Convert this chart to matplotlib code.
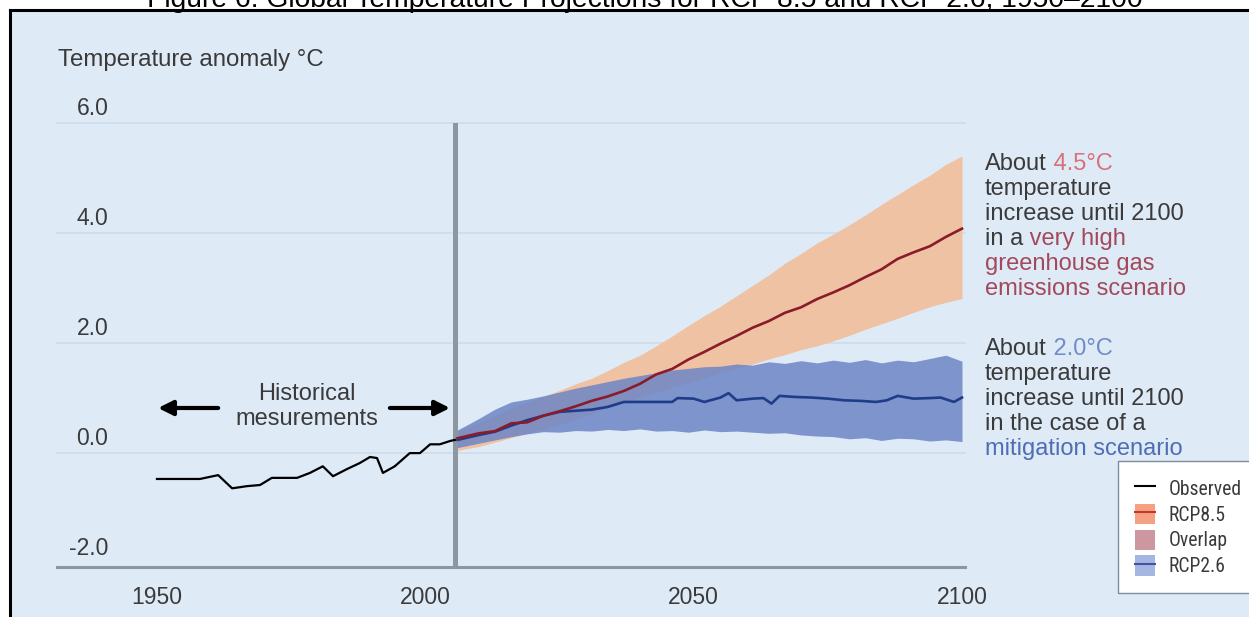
import matplotlib
matplotlib.use("Agg")
import matplotlib.pyplot as plt
from matplotlib import font_manager as fm
from matplotlib.patches import Rectangle, Patch
from matplotlib.lines import Line2D

# ---- data ----
obs_years = [1950, 1958, 1961.4, 1964, 1966.8, 1969.2, 1971.4, 1976.1, 1978.5, 1980.9,
             1982.8, 1985.4, 1987.8, 1989.7, 1991, 1992.1, 1994.3, 1997.1, 1999,
             2000.9, 2002.7, 2004.6, 2005.5]
obs_vals = [-0.47, -0.47, -0.40, -0.64, -0.60, -0.58, -0.45, -0.45, -0.36, -0.24,
            -0.42, -0.29, -0.18, -0.07, -0.09, -0.36, -0.24, 0.0, 0.0,
            0.16, 0.16, 0.22, 0.24]

rcp_years = [2006, 2010, 2013, 2016, 2019, 2022, 2025, 2028, 2031, 2034, 2037, 2040,
             2043, 2046, 2049, 2052, 2055, 2058, 2061, 2064, 2067, 2070, 2073, 2076,
             2079, 2082, 2085, 2088, 2091, 2094, 2097, 2100]
rcp85_mean = [0.27, 0.36, 0.40, 0.54, 0.56, 0.68, 0.76, 0.85, 0.95, 1.03, 1.13, 1.26,
              1.43, 1.53, 1.70, 1.84, 1.99, 2.13, 2.28, 2.40, 2.55, 2.65, 2.80, 2.92,
              3.05, 3.20, 3.34, 3.53, 3.65, 3.76, 3.93, 4.08]
rcp85_hi = [0.40, 0.55, 0.68, 0.82, 0.93, 1.03, 1.14, 1.26, 1.36, 1.50, 1.65, 1.78,
            1.95, 2.13, 2.32, 2.50, 2.67, 2.86, 3.05, 3.24, 3.45, 3.63, 3.82, 3.98,
            4.15, 4.33, 4.52, 4.70, 4.88, 5.05, 5.25, 5.40]
rcp85_lo = [0.05, 0.12, 0.20, 0.28, 0.36, 0.44, 0.52, 0.62, 0.72, 0.82, 0.92, 1.02,
            1.10, 1.20, 1.28, 1.37, 1.46, 1.54, 1.62, 1.71, 1.79, 1.88, 1.95, 2.04,
            2.14, 2.25, 2.35, 2.45, 2.56, 2.66, 2.74, 2.81]
rcp26_hi = [0.42, 0.63, 0.80, 0.93, 0.98, 1.04, 1.11, 1.18, 1.24, 1.30, 1.36, 1.41,
            1.46, 1.51, 1.54, 1.57, 1.58, 1.62, 1.60, 1.66, 1.63, 1.68, 1.64, 1.69,
            1.65, 1.70, 1.64, 1.69, 1.66, 1.72, 1.78, 1.67]
rcp26_lo = [0.10, 0.18, 0.24, 0.30, 0.35, 0.39, 0.38, 0.41, 0.40, 0.43, 0.41, 0.44,
            0.40, 0.41, 0.38, 0.42, 0.39, 0.40, 0.38, 0.36, 0.37, 0.33, 0.31, 0.30,
            0.26, 0.28, 0.23, 0.27, 0.26, 0.22, 0.24, 0.21]

rcp26_years = [2006, 2010, 2013, 2016, 2019, 2022, 2025, 2028, 2031, 2034, 2037, 2040,
               2043, 2046, 2047, 2050, 2052, 2055, 2056.5, 2058, 2061, 2063, 2064.5,
               2066, 2069, 2072, 2075, 2078, 2081, 2084, 2086, 2088, 2091, 2094, 2096,
               2098.5, 2100]
rcp26_mean = [0.24, 0.33, 0.39, 0.50, 0.60, 0.68, 0.75, 0.77, 0.79, 0.84, 0.93, 0.93,
              0.93, 0.93, 1.00, 0.99, 0.93, 1.01, 1.09, 0.96, 0.99, 1.00, 0.90,
              1.04, 1.02, 1.01, 0.99, 0.96, 0.95, 0.93, 0.96, 1.04, 0.99, 1.00, 1.01,
              0.93, 1.01]

hist_end = 2005.5
x_ticks = [1950, 2000, 2050, 2100]
y_ticks = [-2, 0, 2, 4, 6]
y_labels = ["-2.0", "0.0", "2.0", "4.0", "6.0"]
legend_labels = ["Observed", "RCP8.5", "Overlap", "RCP2.6"]
title = "Figure 6: Global Temperature Projections for RCP 8.5 and RCP 2.6, 1950\u20132100"

# ---- style ----
BG = "#dfeaf7"
GRID = "#d0dcea"
AXIS = "#8d97a1"
TXT = "#3a3a3a"
ORANGE = "#f0c2a4"
BLUE = "#6c85c6"

W, H = 1249, 617
plt.rcParams["font.family"] = ["Liberation Sans", "DejaVu Sans"]
fig = plt.figure(figsize=(W / 100, H / 100), dpi=100)
renderer = fig.canvas.get_renderer()


def fx(px):
    return px / W


def fy(py):
    return 1 - py / H


def narrow_family():
    for name in ["Liberation Sans Narrow", "Roboto Condensed", "DejaVu Sans Condensed"]:
        try:
            fm.findfont(fm.FontProperties(family=name), fallback_to_default=False)
            return name
        except ValueError:
            pass
    return "DejaVu Sans"


fig.add_artist(Rectangle((fx(10), 0), 1, fy(10), transform=fig.transFigure,
                         facecolor=BG, edgecolor="none", zorder=-5))
fig.add_artist(Line2D([fx(10), 1], [fy(10), fy(10)], transform=fig.transFigure,
                      color="black", lw=2.2, zorder=-4))
fig.add_artist(Line2D([fx(10), fx(10)], [0, fy(10)], transform=fig.transFigure,
                      color="black", lw=2.2, zorder=-4))

ax = fig.add_axes([fx(57), fy(567), fx(965) - fx(57), fy(123) - fy(567)])
ax.patch.set_alpha(0)
ax.set_xlim(1931.37, 2100.56)
ax.set_ylim(-2.07, 6.0)

for v in y_ticks[1:]:
    ax.axhline(v, color=GRID, lw=1.3, zorder=0, clip_on=False)
for v, lab in zip(y_ticks, y_labels):
    ax.annotate(lab, xy=(0, v), xycoords=("axes fraction", "data"),
                xytext=(37, 6), textcoords="offset points",
                ha="right", va="baseline", fontsize=16.5, color=TXT)

ax.axvline(hist_end, color=AXIS, lw=3.6, zorder=1)

ax.fill_between(rcp_years, rcp85_lo, rcp85_hi, color=ORANGE, lw=0, zorder=2)
ax.fill_between(rcp_years, rcp26_lo, rcp26_hi, color=BLUE, alpha=0.85, lw=0, zorder=3)
ax.plot(rcp26_years, rcp26_mean, color="#1f3c88", lw=1.9, zorder=4)
ax.plot(rcp_years, rcp85_mean, color="#8a1c2a", lw=1.9, zorder=5)
ax.plot(obs_years, obs_vals, color="black", lw=1.6, zorder=5)

for s in ["left", "right", "top"]:
    ax.spines[s].set_visible(False)
ax.spines["bottom"].set_color(AXIS)
ax.spines["bottom"].set_linewidth(2.2)
ax.set_xticks(x_ticks)
ax.set_yticks([])
ax.tick_params(axis="x", length=0, pad=14, labelsize=16.5, labelcolor=TXT)

# historical arrows
arrow = dict(arrowstyle="-|>", color="black", lw=3, mutation_scale=22,
             shrinkA=0, shrinkB=0)
ax.annotate("", xy=(1950.2, 0.82), xytext=(1961.4, 0.82), arrowprops=arrow)
ax.annotate("", xy=(2004.6, 0.82), xytext=(1993.4, 0.82), arrowprops=arrow)
fig.text(fx(307), fy(400), "Historical", ha="center", va="baseline", fontsize=17, color=TXT)
fig.text(fx(307), fy(425), "mesurements", ha="center", va="baseline", fontsize=17, color=TXT)

fig.text(fx(58), fy(66), "Temperature anomaly \u00b0C", va="baseline", fontsize=17.3, color=TXT)
fig.text(fx(645), fy(7), title, ha="center", va="baseline", fontsize=20.3, color="black")


# right-hand annotations with coloured words
def coloured_line(x, y, parts, size=17):
    for s, c in parts:
        t = fig.text(fx(x), fy(y), s, color=c, fontsize=size, va="baseline", ha="left")
        x += t.get_window_extent(renderer).width


RED1 = "#d9707a"
RED2 = "#a24a5c"
BLU1 = "#6f8cc8"
BLU2 = "#4e6db5"
lines85 = [
    [("About", TXT), (" 4.5\u00b0C", RED1)],
    [("temperature", TXT)],
    [("increase until 2100", TXT)],
    [("in a", TXT), (" very high", RED2)],
    [("greenhouse gas", RED2)],
    [("emissions scenario", RED2)],
]
lines26 = [
    [("About", TXT), (" 2.0\u00b0C", BLU1)],
    [("temperature", TXT)],
    [("increase until 2100", TXT)],
    [("in the case of a", TXT)],
    [("mitigation scenario", BLU2)],
]
for i, parts in enumerate(lines85):
    coloured_line(985, 170 + 25 * i, parts)
for i, parts in enumerate(lines26):
    coloured_line(985, 355 + 25 * i, parts)

# legend (narrow font, sized so "Observed" is about 73 px wide)
fam = narrow_family()
probe = fig.text(0, 0, "Observed", family=fam, fontsize=15)
leg_size = 15 * 73 / probe.get_window_extent(renderer).width
probe.remove()
fs_px = leg_size * 100 / 72

handles = [
    Line2D([], [], color="black", lw=1.5),
    (Patch(facecolor="#f4a183", edgecolor="none"), Line2D([], [], color="#c0392b", lw=1.5)),
    Patch(facecolor="#cc97a1", edgecolor="none"),
    (Patch(facecolor="#a6b6e3", edgecolor="none"), Line2D([], [], color="#44539f", lw=1.5)),
]
leg = ax.legend(handles, legend_labels, loc="upper left",
                bbox_to_anchor=(fx(1118), fy(461)), bbox_transform=fig.transFigure,
                frameon=True, fancybox=False, framealpha=1, edgecolor="#7f8c99",
                borderaxespad=0, borderpad=17 / fs_px,
                prop={"family": fam, "size": leg_size},
                handlelength=20 / fs_px, handleheight=24 / fs_px,
                handletextpad=14 / fs_px, labelspacing=5 / fs_px)
leg.get_frame().set_linewidth(1)
for t in leg.get_texts():
    t.set_color(TXT)

fig.savefig("out.png", dpi=100)
